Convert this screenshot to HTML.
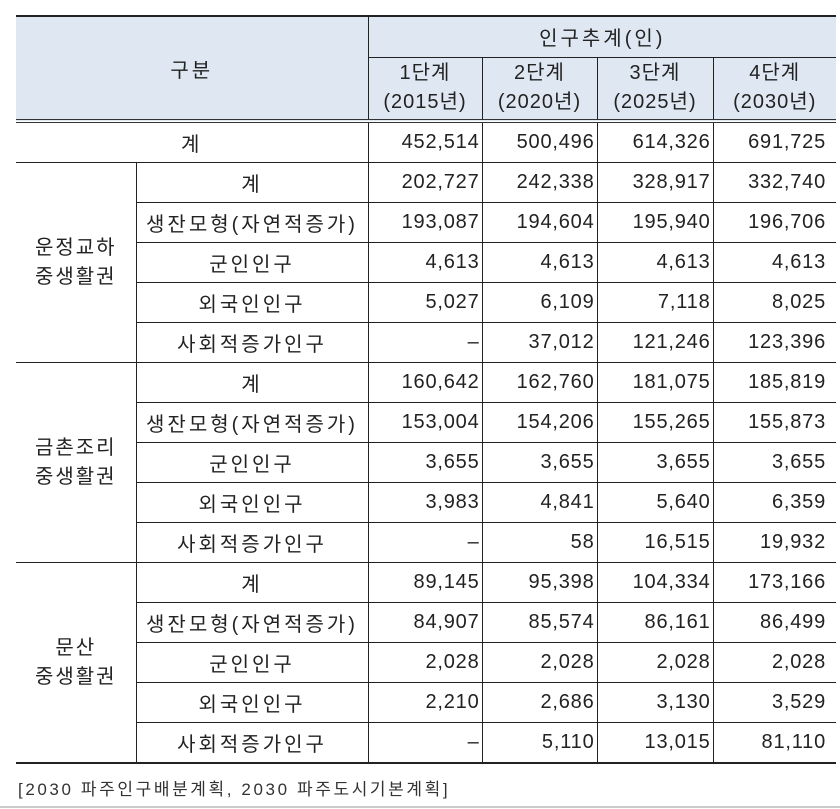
<!DOCTYPE html>
<html><head><meta charset="utf-8"><style>
html,body{margin:0;padding:0;background:#fff;width:840px;height:809px;overflow:hidden}
body{font-family:"Liberation Sans","Noto Sans CJK KR",sans-serif;color:#222;position:relative}
table{position:absolute;left:16px;top:15px;border-collapse:collapse;table-layout:fixed;width:820px;font-size:20px;letter-spacing:3px}
td{padding:0;border:1px solid #222;height:39px;text-align:center;vertical-align:middle;white-space:nowrap}
td.n{text-align:right;padding-right:2px;letter-spacing:0.8px}
td.n.r{padding-right:10px}
tr.h td{background:#dfe8f2}
tr.h2 td{letter-spacing:1px}
table tr:first-child td{border-top:2px solid #222}
tr.h2 td, td.hb{border-bottom:4px double #333}
td.l{border-left:none}
td.r{border-right:none}
tr.last td{border-bottom:2px solid #222}
.foot{position:absolute;left:18px;top:775px;font-size:17px;color:#333;letter-spacing:2.6px}
.gl{position:absolute;left:0;top:806px;width:840px;height:2px;background:#ccc}
</style></head><body>
<table>
<colgroup><col style="width:120px"><col style="width:232px"><col style="width:114px"><col style="width:115px"><col style="width:116px"><col style="width:123px"></colgroup>
<tr class="h" style="height:41px"><td class="l hb" colspan="2" rowspan="2">구분</td><td class="r" colspan="4">인구추계(인)</td></tr>
<tr class="h h2" style="height:64px"><td style="line-height:29px">1단계<br>(2015년)</td><td style="line-height:29px">2단계<br>(2020년)</td><td style="line-height:29px">3단계<br>(2025년)</td><td class="r" style="line-height:29px">4단계<br>(2030년)</td></tr>
<tr><td class="l" colspan="2">계</td><td class="n">452,514</td><td class="n">500,496</td><td class="n">614,326</td><td class="n r">691,725</td></tr>

<tr><td class="l" rowspan="5" style="line-height:29px;letter-spacing:2px">운정교하<br>중생활권</td><td>계</td><td class="n">202,727</td><td class="n">242,338</td><td class="n">328,917</td><td class="n r">332,740</td></tr>
<tr><td>생잔모형(자연적증가)</td><td class="n">193,087</td><td class="n">194,604</td><td class="n">195,940</td><td class="n r">196,706</td></tr>
<tr><td>군인인구</td><td class="n">4,613</td><td class="n">4,613</td><td class="n">4,613</td><td class="n r">4,613</td></tr>
<tr><td>외국인인구</td><td class="n">5,027</td><td class="n">6,109</td><td class="n">7,118</td><td class="n r">8,025</td></tr>
<tr><td>사회적증가인구</td><td class="n">–</td><td class="n">37,012</td><td class="n">121,246</td><td class="n r">123,396</td></tr>

<tr><td class="l" rowspan="5" style="line-height:29px;letter-spacing:2px">금촌조리<br>중생활권</td><td>계</td><td class="n">160,642</td><td class="n">162,760</td><td class="n">181,075</td><td class="n r">185,819</td></tr>
<tr><td>생잔모형(자연적증가)</td><td class="n">153,004</td><td class="n">154,206</td><td class="n">155,265</td><td class="n r">155,873</td></tr>
<tr><td>군인인구</td><td class="n">3,655</td><td class="n">3,655</td><td class="n">3,655</td><td class="n r">3,655</td></tr>
<tr><td>외국인인구</td><td class="n">3,983</td><td class="n">4,841</td><td class="n">5,640</td><td class="n r">6,359</td></tr>
<tr><td>사회적증가인구</td><td class="n">–</td><td class="n">58</td><td class="n">16,515</td><td class="n r">19,932</td></tr>

<tr><td class="l" rowspan="5" style="line-height:29px;letter-spacing:2px;border-bottom:2px solid #222">문산<br>중생활권</td><td>계</td><td class="n">89,145</td><td class="n">95,398</td><td class="n">104,334</td><td class="n r">173,166</td></tr>
<tr><td>생잔모형(자연적증가)</td><td class="n">84,907</td><td class="n">85,574</td><td class="n">86,161</td><td class="n r">86,499</td></tr>
<tr><td>군인인구</td><td class="n">2,028</td><td class="n">2,028</td><td class="n">2,028</td><td class="n r">2,028</td></tr>
<tr><td>외국인인구</td><td class="n">2,210</td><td class="n">2,686</td><td class="n">3,130</td><td class="n r">3,529</td></tr>
<tr class="last"><td>사회적증가인구</td><td class="n">–</td><td class="n">5,110</td><td class="n">13,015</td><td class="n r">81,110</td></tr>
</table>
<div class="foot">[2030 파주인구배분계획, 2030 파주도시기본계획]</div>
<div class="gl"></div>
</body></html>
